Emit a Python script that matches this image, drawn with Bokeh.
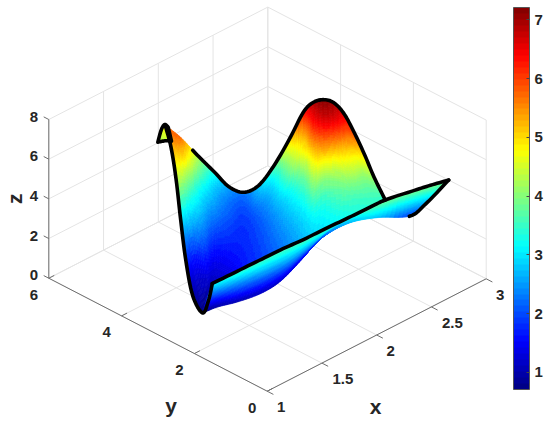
import numpy as np
from bokeh.plotting import figure
from bokeh.models import Range1d, LinearColorMapper, ColorBar, FixedTicker, ColumnDataSource
from bokeh.core.properties import value
from bokeh.embed import file_html
from bokeh.resources import INLINE

# Surface: three sheets, each a table of (x, y, z) samples
BACK_X=[[1.87,1.79,1.69,1.59,1.47,1.33,1.27],[1.85,1.81,1.77,1.70,1.62,1.49,1.27],[2.00,1.96,1.91,1.80,1.68,1.55,1.38],
 [2.12,2.05,1.95,1.84,1.73,1.62,1.51],[2.18,2.11,2.01,1.91,1.82,1.72,1.62],[2.25,2.18,2.10,2.00,1.90,1.80,1.70],
 [2.29,2.23,2.17,2.09,1.99,1.89,1.79],[2.37,2.35,2.28,2.19,2.09,1.98,1.88],[2.45,2.42,2.36,2.30,2.21,2.09,1.96],
 [2.53,2.51,2.46,2.41,2.32,2.19,2.04],[2.56,2.48,2.44,2.39,2.32,2.22,2.10],[2.58,2.50,2.47,2.45,2.41,2.31,2.17],
 [2.63,2.55,2.53,2.51,2.46,2.35,2.24],[2.65,2.61,2.58,2.55,2.49,2.40,2.31],[2.64,2.64,2.62,2.57,2.52,2.46,2.38],
 [2.67,2.65,2.64,2.61,2.56,2.51,2.45],[2.65,2.64,2.63,2.61,2.59,2.56,2.53],[2.62,2.62,2.62,2.62,2.62,2.62,2.62]]
BACK_Y=[[5.42,5.02,4.58,4.15,3.65,3.04,2.59],[4.93,4.74,4.57,4.31,3.98,3.48,2.59],[4.94,4.76,4.57,4.19,3.76,3.30,2.76],
 [4.82,4.64,4.31,3.99,3.67,3.32,3.04],[4.61,4.39,4.10,3.80,3.51,3.22,2.93],[4.41,4.20,3.95,3.66,3.35,3.04,2.74],
 [4.12,3.94,3.76,3.50,3.22,2.90,2.62],[3.95,3.89,3.67,3.40,3.11,2.76,2.48],[3.76,3.67,3.50,3.33,3.04,2.68,2.30],
 [3.61,3.54,3.38,3.22,2.96,2.58,2.12],[3.42,3.16,3.06,2.91,2.70,2.40,2.01],[3.18,2.95,2.86,2.80,2.69,2.39,1.95],
 [3.06,2.82,2.77,2.72,2.55,2.24,1.89],[2.85,2.73,2.66,2.54,2.37,2.10,1.83],[2.55,2.56,2.48,2.34,2.20,2.00,1.76],
 [2.36,2.32,2.29,2.19,2.04,1.90,1.70],[2.03,2.01,1.96,1.92,1.85,1.77,1.67],[1.63,1.63,1.63,1.63,1.63,1.63,1.63]]
BACK_Z=[[5.8,5.3,4.4,3.0,1.8,1.0,0.72],[5.7,5.0,4.1,3.2,2.4,1.4,0.72],[4.4,3.9,3.2,2.7,2.1,1.4,0.85],
 [3.3,2.9,2.5,2.1,1.7,1.35,1.1],[2.6,2.3,2.1,1.9,1.7,1.5,1.3],[2.3,2.05,1.9,1.8,1.75,1.7,1.65],
 [2.8,2.5,2.2,2.05,1.95,1.9,1.85],[3.7,3.1,2.75,2.5,2.3,2.2,2.1],[5.0,4.3,3.7,3.1,2.8,2.55,2.4],
 [6.3,5.5,4.8,4.0,3.4,2.95,2.7],[6.9,6.3,5.3,4.5,3.8,3.2,2.9],[7.2,6.6,5.6,4.7,3.9,3.3,3.0],
 [7.0,6.5,5.5,4.6,3.9,3.4,3.1],[6.6,6.0,5.2,4.5,3.9,3.5,3.2],[6.0,5.3,4.7,4.2,3.8,3.5,3.3],
 [5.0,4.6,4.2,3.9,3.7,3.5,3.4],[4.2,4.0,3.85,3.7,3.6,3.5,3.45],[3.5,3.5,3.5,3.5,3.5,3.5,3.5]]
FRONT_X=[[1.14,1.17,1.20,1.23,1.26],[1.25,1.27,1.30,1.32,1.35],[1.47,1.47,1.47,1.47,1.47],[1.66,1.66,1.65,1.64,1.64],
 [1.86,1.85,1.84,1.83,1.82],[2.04,2.05,2.05,2.05,2.06],[2.22,2.23,2.23,2.24,2.24],[2.38,2.38,2.38,2.38,2.38],
 [2.55,2.55,2.55,2.55,2.55],[2.76,2.78,2.80,2.83,2.85],[2.87,2.89,2.90,2.91,2.93],[3.00,3.00,3.00,3.00,3.00]]
FRONT_Y=[[1.93,2.09,2.25,2.41,2.57],[1.76,1.93,2.09,2.26,2.42],[1.64,1.79,1.94,2.08,2.23],[1.63,1.75,1.87,1.99,2.11],
 [1.59,1.72,1.85,1.98,2.11],[1.58,1.75,1.92,2.09,2.26],[1.56,1.74,1.92,2.10,2.27],[1.49,1.60,1.71,1.83,1.94],
 [1.42,1.47,1.53,1.58,1.64],[1.25,1.36,1.46,1.56,1.66],[1.14,1.22,1.30,1.38,1.45],[1.03,1.03,1.03,1.03,1.03]]
FRONT_Z=[[3.2,2.59,1.98,1.36,0.75],[3.5,2.86,2.23,1.59,0.95],[3.7,3.04,2.38,1.71,1.05],[3.7,3.05,2.4,1.75,1.1],
 [3.7,3.08,2.45,1.83,1.2],[3.7,3.14,2.58,2.01,1.45],[3.7,3.28,2.85,2.42,2],[3.8,3.52,3.25,2.98,2.7],
 [3.9,3.62,3.35,3.07,2.8],[3.95,3.46,2.98,2.49,2],[4,3.65,3.3,2.95,2.6],[4,4,4,4,4]]
TIP_X=[[1.932,1.949],[2.015,1.971],[2.041,1.976],[2.052,1.974],[2.007,1.933]]
TIP_Y=[[5.808,5.861],[5.985,5.833],[5.999,5.748],[5.967,5.649],[5.749,5.436]]
TIP_Z=[[4.4,4.3],[4.5,4.3],[4.7,4.4],[4.8,4.5],[5,4.8]]

XT=[1,1.5,2,2.5,3]; YT=[0,2,4,6]; ZT=[0,2,4,6,8]
XL=["1","1.5","2","2.5","3"]; YL=["0","2","4","6"]; ZL=["0","2","4","6","8"]
CB_T=[1,2,3,4,5,6,7]
low,high=0.71,7.21

# View of the 3-D box on the page
P0=np.array([266.7,390.7]); EX=np.array([109.5,-56.2]); EY=np.array([-36.4,-18.83]); EZ=-19.84
def proj(x,y,z):
    x,y,z=np.asarray(x,float),np.asarray(y,float),np.asarray(z,float)
    return P0[0]+EX[0]*(x-1)+EY[0]*y, P0[1]+EX[1]*(x-1)+EY[1]*y+EZ*z

def cr(a,n,axis):
    a=np.moveaxis(np.asarray(a,float),axis,0)
    p=np.concatenate([2*a[:1]-a[1:2],a,2*a[-1:]-a[-2:-1]],0)
    out=[]
    for i in range(1,len(p)-2):
        for k in range(n):
            t=k/n
            out.append(0.5*((2*p[i])+(-p[i-1]+p[i+1])*t+(2*p[i-1]-5*p[i]+4*p[i+1]-p[i+2])*t*t+(-p[i-1]+3*p[i]-3*p[i+1]+p[i+2])*t**3))
    out.append(a[-1])
    return np.moveaxis(np.array(out),0,axis)
def mesh(S,nc,nr):
    px,py=proj(*S); z=np.asarray(S[2],float)
    f=lambda a:cr(cr(a,nc,0),nr,1)
    return f(px),f(py),f(z)

def jet(t):
    c=lambda v:int(255*min(1,max(0,v)))
    return "#%02x%02x%02x"%(c(1.5-abs(4*t-3)),c(1.5-abs(4*t-2)),c(1.5-abs(4*t-1)))
mapper=LinearColorMapper(palette=[jet((i+.5)/64) for i in range(64)],low=low,high=high)

p=figure(width=550,height=423,x_range=Range1d(0,550),y_range=Range1d(423,0),output_backend="svg",toolbar_location=None,min_border=0,outline_line_color=None)
p.axis.visible=False; p.grid.visible=False

GR="#e4e4e4"; AX="#6e6e6e"; TX="#262626"; FONT=value("Liberation Sans")
def seg(a,b,color,w=1):
    x,y=proj([a[0],b[0]],[a[1],b[1]],[a[2],b[2]])
    p.line(x,y,line_color=color,line_width=w)
for v in XT:
    seg((v,0,0),(v,6,0),GR); seg((v,6,0),(v,6,8),GR)
for v in YT:
    seg((1,v,0),(3,v,0),GR); seg((3,v,0),(3,v,8),GR)
for v in ZT:
    seg((1,6,v),(3,6,v),GR); seg((3,6,v),(3,0,v),GR)
seg((1,0,0),(3,0,0),AX); seg((1,0,0),(1,6,0),AX); seg((1,6,0),(1,6,8),AX)
for v in XT: seg((v,0,0),(v,-0.17,0),AX)
for v in YT: seg((1,v,0),(1.05,v,0),AX)
for v in ZT: seg((1,6,v),(1,6.14,v),AX)

def draw(S,nc,nr):
    X,Y,Z=mesh(S,nc,nr)
    xs=[];ys=[];zs=[]
    for i in range(X.shape[0]-1):
        for j in range(X.shape[1]-1):
            xs.append([X[i,j],X[i+1,j],X[i+1,j+1],X[i,j+1]])
            ys.append([Y[i,j],Y[i+1,j],Y[i+1,j+1],Y[i,j+1]])
            zs.append(float(Z[i:i+2,j:j+2].mean()))
    src=ColumnDataSource(dict(xs=xs,ys=ys,z=zs))
    t={"field":"z","transform":mapper}
    p.patches("xs","ys",source=src,fill_color=t,line_color=t,line_width=0.7)
    return X,Y
n=8
BACK=(BACK_X,BACK_Y,BACK_Z); FRONT=(FRONT_X,FRONT_Y,FRONT_Z); TIP=(TIP_X,TIP_Y,TIP_Z)
BX,BY=draw(BACK,n,n)
FX,FY=draw(FRONT,n,n)
TX_,TY_=draw(TIP,4,4)
def outline(x,y,w=3.6):
    p.line(x,y,line_color="black",line_width=w,line_join="round",line_cap="round")
bpx,bpy=proj(*BACK)
pth=np.array(list(zip(bpx[0],bpy[0]))+[(bpx[2,-1],bpy[2,-1]),(bpx[3,-1],bpy[3,-1])])
sm=cr(pth,8,0)
outline(sm[:,0],sm[:,1])
outline(BX[n+6:,0],BY[n+6:,0])
outline(FX[:,0],FY[:,0])
outline(FX[9*n:,-1],FY[9*n:,-1])
outline(np.r_[TX_[:,0],TX_[::-1,-1]],np.r_[TY_[:,0],TY_[::-1,-1]])

tk=dict(text_font=FONT,text_font_style="bold",text_font_size="15px",text_color=TX,text_align="center",text_baseline="middle")
x,y=proj(XT,[0]*5,[0]*5)
p.text(x,y,text=XL,x_offset=[14,21,14,21,14],y_offset=16,**tk)
x,y=proj([1]*4,YT,[0]*4)
p.text(x,y,text=YL,x_offset=-15,y_offset=16.5,**tk)
x,y=proj([1]*5,[6]*5,ZT)
p.text(x,y,text=ZL,x_offset=-15,y_offset=-3,**tk)
lb=dict(text_font=FONT,text_font_style="bold",text_font_size="21px",text_color=TX,text_align="center",text_baseline="middle")
x,y=proj([2],[0],[0]); p.text(x,y,text=["x"],x_offset=-1,y_offset=71,**lb)
x,y=proj([1],[3],[0]); p.text(x,y,text=["y"],x_offset=13,y_offset=71,**lb)
x,y=proj([1],[6],[4]); p.text(x,y,text=["z"],x_offset=-34,y_offset=0,angle=np.pi/2,**lb)

cb=ColorBar(color_mapper=mapper,location=(513,34),width=16,height=382,padding=0,margin=0,
  ticker=FixedTicker(ticks=CB_T),major_label_text_font="Liberation Sans",major_label_text_font_style="bold",
  major_label_text_font_size="15px",major_label_text_color=TX,major_tick_in=3,major_tick_out=0,major_tick_line_color="#444444",
  minor_tick_line_color=None,bar_line_color="#555555",border_line_color=None,background_fill_alpha=0,label_standoff=5)
p.add_layout(cb)
open("out.html","w").write(file_html(p,INLINE))
